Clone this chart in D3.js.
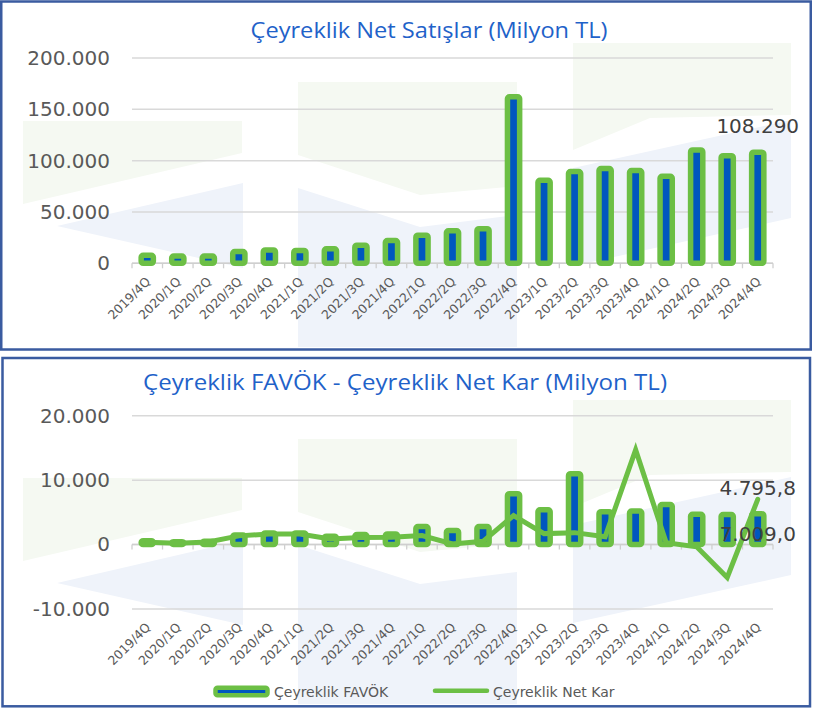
<!DOCTYPE html>
<html>
<head>
<meta charset="utf-8">
<script src="https://cdn.jsdelivr.net/npm/d3@7"></script>
<style>
  html, body { margin: 0; padding: 0; background: #ffffff; }
  svg { display: block; }
</style>
</head>
<body>
<script>
// ---------------- DATA ----------------
const categories = ["2019/4Q","2020/1Q","2020/2Q","2020/3Q","2020/4Q","2021/1Q","2021/2Q","2021/3Q","2021/4Q",
  "2022/1Q","2022/2Q","2022/3Q","2022/4Q","2023/1Q","2023/2Q","2023/3Q","2023/4Q","2024/1Q","2024/2Q","2024/3Q","2024/4Q"];
const netSales = [7800, 7100, 7000, 11500, 13000, 12500, 14100, 17600, 22200,
  27400, 31700, 33700, 162200, 80900, 89400, 92300, 90400, 84800, 110400, 104800, 108290];
const favok = [600, 450, 500, 1500, 1800, 1800, 1300, 1550, 1650,
  2800, 2200, 2800, 7900, 5400, 11000, 5100, 5200, 6200, 4700, 4650, 4795.8];
const netKar = [350, 200, 400, 1350, 1650, 1650, 850, 1100, 1150,
  1400, 100, 500, 4500, 1700, 1850, 1200, 14700, 300, -350, -5100, 7009.0];
const salesTicks = [0, 50000, 100000, 150000, 200000];
const profitTicks = [-10000, 0, 10000, 20000];
const titleTop = "Çeyreklik Net Satışlar (Milyon TL)";
const titleBottom = "Çeyreklik FAVÖK - Çeyreklik Net Kar (Milyon TL)";
const legendLabels = ["Çeyreklik FAVÖK", "Çeyreklik Net Kar"];

// ---------------- STYLE ----------------
const GREEN = "#6cbf45", BLUE = "#0057bf", GRID = "#d9d9d9", TXT = "#595959",
      LBL = "#404040", TITLE = "#1f62c9", FRAME = "#3a5ba0";
const FONT = "DejaVu Sans";

const W = 814, H = 708;
const svg = d3.select("body").append("svg").attr("width", W).attr("height", H)
  .style("font-family", FONT);

const loc = d3.formatLocale({decimal: ",", thousands: ".", grouping: [3], currency: ["", " TL"], minus: "-"});
const fmtInt = loc.format(",d"), fmt1 = loc.format(",.1f");

const x = d3.scaleBand().domain(categories).range([132, 773]).padding(0);
const yTop = d3.scaleLinear().domain([0, 200000]).range([263.3, 58]);
const yBot = d3.scaleLinear().domain([-10000, 20000]).range([609, 415.7]);
const barW = 12.2, strokeW = 5.5;

// ---------------- WATERMARK (decorative) ----------------
function watermark(dy) {
  const g = svg.append("g").attr("transform", `translate(0,${dy})`);
  const greens = [
    [[23,121],[242,121],[242,153],[23,204]],
    [[298,82],[517,82],[517,186],[420,195],[298,155]],
    [[573,43],[791,43],[791,115],[650,118],[573,150]]
  ];
  const blues = [
    [[57,226],[243,183],[243,268]],
    [[298,188],[420,227],[517,215],[517,347],[298,347]],
    [[573,168],[791,120],[791,218],[573,266]]
  ];
  greens.forEach(p => g.append("polygon").attr("points", p.join(" ")).attr("fill", "#f5f9f2"));
  blues.forEach(p => g.append("polygon").attr("points", p.join(" ")).attr("fill", "#eff3fa"));
}
watermark(0);
watermark(357);

// ---------------- FRAMES ----------------
svg.append("rect").attr("x", 1.25).attr("y", 1.5).attr("width", 809.5).attr("height", 348)
  .attr("fill", "none").attr("stroke", FRAME).attr("stroke-width", 2.5);
svg.append("rect").attr("x", 2.5).attr("y", 358).attr("width", 807.5).attr("height", 348.3)
  .attr("fill", "none").attr("stroke", FRAME).attr("stroke-width", 2.5);

// ---------------- helpers ----------------
function gridAndY(scale, ticks) {
  const g = svg.append("g");
  g.selectAll("line").data(ticks).join("line")
    .attr("x1", x.range()[0]).attr("x2", x.range()[1])
    .attr("y1", d => scale(d)).attr("y2", d => scale(d))
    .attr("stroke", GRID).attr("stroke-width", 1.5);
  const ax = svg.append("g").attr("transform", "translate(110,0)")
    .call(d3.axisLeft(scale).tickValues(ticks).tickFormat(fmtInt).tickSize(0).tickPadding(0));
  ax.select(".domain").remove();
  ax.selectAll("text").attr("fill", TXT).style("font-size", "20px").style("font-family", FONT);
}
function baseAxis(y0, labelY) {
  const g = svg.append("g");
  g.append("line").attr("x1", x.range()[0]).attr("x2", x.range()[1])
    .attr("y1", y0).attr("y2", y0).attr("stroke", "#cfcfcf").attr("stroke-width", 1.5);
  const bounds = categories.map(c => x(c)).concat([x.range()[1]]);
  g.selectAll("line.tk").data(bounds).join("line").attr("class", "tk")
    .attr("x1", d => d).attr("x2", d => d).attr("y1", y0).attr("y2", y0 + 5)
    .attr("stroke", "#cfcfcf").attr("stroke-width", 1.3);
  const ax = svg.append("g").attr("transform", `translate(0,${labelY})`)
    .call(d3.axisBottom(x).tickSize(0).tickPadding(0));
  ax.select(".domain").remove();
  ax.selectAll("text").attr("y", 0).attr("dy", 0)
    .attr("text-anchor", "end").attr("transform", "translate(4,19) rotate(-45)")
    .attr("fill", TXT).style("font-size", "12.5px").style("font-family", FONT);
}
function bars(data, scale) {
  svg.append("g").selectAll("rect").data(data).join("rect")
    .attr("x", (d, i) => x(categories[i]) + x.bandwidth() / 2 - barW / 2)
    .attr("width", barW)
    .attr("y", d => Math.min(scale(d), scale(0)))
    .attr("height", d => Math.abs(scale(0) - scale(d)))
    .attr("rx", 2)
    .attr("fill", BLUE).attr("stroke", GREEN).attr("stroke-width", strokeW);
}

// ---------------- TOP CHART ----------------
svg.append("text").attr("x", 429).attr("y", 38).attr("text-anchor", "middle")
  .attr("fill", TITLE).style("font-size", "22px").style("font-family", "Open Sans")
  .attr("textLength", 357).attr("lengthAdjust", "spacingAndGlyphs").text(titleTop);
gridAndY(yTop, salesTicks);
baseAxis(yTop(0), yTop(0));
bars(netSales, yTop);
const last = categories.length - 1;
svg.append("text").attr("x", x(categories[last]) + x.bandwidth() / 2)
  .attr("y", yTop(netSales[last]) - 19).attr("text-anchor", "middle")
  .attr("fill", LBL).style("font-size", "20px").text(fmtInt(netSales[last]));

// ---------------- BOTTOM CHART ----------------
svg.append("text").attr("x", 405).attr("y", 390).attr("text-anchor", "middle")
  .attr("fill", TITLE).style("font-size", "21px").style("font-family", "Open Sans")
  .attr("textLength", 524).attr("lengthAdjust", "spacingAndGlyphs").text(titleBottom);
gridAndY(yBot, profitTicks);
baseAxis(yBot(0), yBot(-10000));
bars(favok, yBot);
const line = d3.line().x((d, i) => x(categories[i]) + x.bandwidth() / 2).y(d => yBot(d));
svg.append("path").datum(netKar).attr("d", line).attr("fill", "none")
  .attr("stroke", GREEN).attr("stroke-width", 5).attr("stroke-linejoin", "miter")
  .attr("stroke-linecap", "round");
const cxLast = x(categories[last]) + x.bandwidth() / 2;
svg.append("text").attr("x", cxLast).attr("y", yBot(netKar[last]) - 4).attr("text-anchor", "middle")
  .attr("fill", LBL).style("font-size", "20px").text(fmt1(favok[last]));
svg.append("text").attr("x", cxLast).attr("y", yBot(favok[last]) + 27).attr("text-anchor", "middle")
  .attr("fill", LBL).style("font-size", "20px").text(fmt1(netKar[last]));

// ---------------- LEGEND ----------------
const lg = svg.append("g");
lg.append("rect").attr("x", 215.5).attr("y", 687.8).attr("width", 52).attr("height", 7.5).attr("rx", 2)
  .attr("fill", BLUE).attr("stroke", GREEN).attr("stroke-width", 4.5);
lg.append("text").attr("x", 274).attr("y", 696.5).attr("fill", TXT).style("font-size", "14px").text(legendLabels[0]);
lg.append("line").attr("x1", 435).attr("x2", 487).attr("y1", 690.7).attr("y2", 690.7)
  .attr("stroke", GREEN).attr("stroke-width", 4.5).attr("stroke-linecap", "round");
lg.append("text").attr("x", 493).attr("y", 696.5).attr("fill", TXT).style("font-size", "14px").text(legendLabels[1]);
</script>
</body>
</html>
